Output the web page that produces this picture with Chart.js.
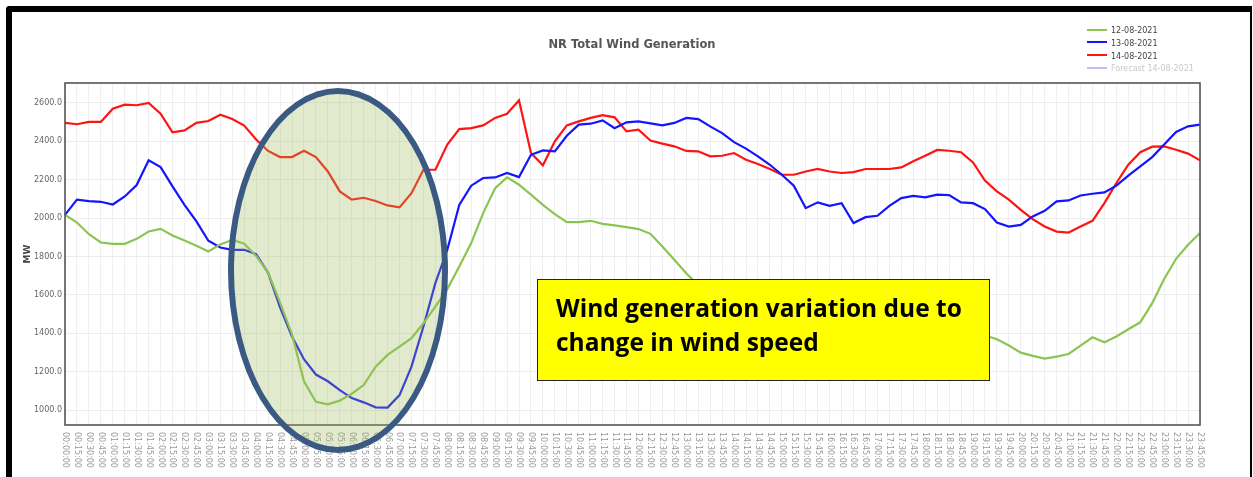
<!DOCTYPE html>
<html>
<head>
<meta charset="utf-8">
<script src="https://cdn.jsdelivr.net/npm/chart.js@4/dist/chart.umd.min.js"></script>
<style>
  html, body { margin: 0; padding: 0; background: #fff; }
  #wrap { position: relative; width: 1253px; height: 477px; overflow: hidden; background: #fff; }
  #frame { position: absolute; left: 6px; top: 6px; width: 1238px; height: 490px; border-top: 6px solid #000; border-left: 6px solid #000; border-right: 2px solid #000; border-top-left-radius: 4px; }
  canvas { position: absolute; left: 0; top: 0; }
  #title { position: absolute; left: 432px; width: 400px; top: 37px; text-align: center; font: bold 11.5px "DejaVu Sans"; color: #555; }
  #legend { position: absolute; left: 1087px; top: 25px; font: 8px "DejaVu Sans"; color: #444; }
  .li { position: relative; height: 12.8px; line-height: 12.8px; white-space: nowrap; }
  .li span.sw { display: inline-block; width: 20px; height: 2px; vertical-align: middle; margin-right: 4px; position: relative; top: -1px; }
  #ellipse { position: absolute; left: 228px; top: 88px; width: 220px; height: 365px; box-sizing: border-box; border: 6px solid #3a5a84; border-radius: 50%; background: rgba(155,187,89,0.3); }
  #note { position: absolute; left: 537px; top: 279px; width: 453px; height: 102px; box-sizing: border-box; border: 1.5px solid #222; background: #ffff00; padding: 11px 0 0 18px; font: bold 24.5px "Open Sans"; line-height: 34px; color: #000; white-space: nowrap; overflow: hidden; }
</style>
</head>
<body>
<div id="wrap">
  <canvas id="c" width="1253" height="477"></canvas>
  <div id="frame"></div>
  <div id="title">NR Total Wind Generation</div>
  <div id="legend"></div>
  <div id="ellipse"></div>
  <div id="note">Wind generation variation due to<br>change in wind speed</div>
</div>
<script>
const categories = ["00:00:00","00:15:00","00:30:00","00:45:00","01:00:00","01:15:00","01:30:00","01:45:00","02:00:00","02:15:00","02:30:00","02:45:00","03:00:00","03:15:00","03:30:00","03:45:00","04:00:00","04:15:00","04:30:00","04:45:00","05:00:00","05:15:00","05:30:00","05:45:00","06:00:00","06:15:00","06:30:00","06:45:00","07:00:00","07:15:00","07:30:00","07:45:00","08:00:00","08:15:00","08:30:00","08:45:00","09:00:00","09:15:00","09:30:00","09:45:00","10:00:00","10:15:00","10:30:00","10:45:00","11:00:00","11:15:00","11:30:00","11:45:00","12:00:00","12:15:00","12:30:00","12:45:00","13:00:00","13:15:00","13:30:00","13:45:00","14:00:00","14:15:00","14:30:00","14:45:00","15:00:00","15:15:00","15:30:00","15:45:00","16:00:00","16:15:00","16:30:00","16:45:00","17:00:00","17:15:00","17:30:00","17:45:00","18:00:00","18:15:00","18:30:00","18:45:00","19:00:00","19:15:00","19:30:00","19:45:00","20:00:00","20:15:00","20:30:00","20:45:00","21:00:00","21:15:00","21:30:00","21:45:00","22:00:00","22:15:00","22:30:00","22:45:00","23:00:00","23:15:00","23:30:00","23:45:00"];

const gen_12_08 = [2017,1977,1916,1873,1866,1866,1892,1930,1944,1909,1883,1856,1826,1863,1887,1866,1803,1716,1560,1395,1150,1043,1030,1049,1085,1130,1226,1287,1330,1374,1452,1539,1630,1748,1870,2026,2156,2212,2174,2122,2069,2021,1979,1979,1986,1970,1962,1953,1943,1918,1852,1783,1713,1650,1590,1540,1505,1485,1470,1460,1450,1445,1445,1450,1440,1430,1425,1420,1415,1410,1405,1405,1400,1400,1398,1395,1392,1388,1369,1336,1299,1282,1268,1278,1292,1336,1379,1353,1383,1421,1457,1557,1683,1788,1861,1922];

const gen_13_08 = [2017,2096,2089,2085,2071,2113,2172,2301,2266,2165,2069,1983,1882,1847,1835,1835,1812,1715,1535,1383,1265,1185,1150,1104,1062,1040,1014,1013,1078,1226,1435,1661,1835,2069,2169,2209,2212,2235,2214,2330,2353,2348,2429,2487,2492,2509,2468,2499,2504,2494,2483,2496,2522,2516,2478,2443,2396,2362,2322,2278,2226,2169,2052,2082,2064,2078,1974,2005,2012,2064,2104,2116,2108,2122,2120,2082,2078,2047,1977,1956,1965,2009,2038,2087,2092,2118,2127,2134,2169,2221,2269,2318,2383,2449,2478,2487];

const gen_14_08 = [2496,2489,2501,2501,2570,2591,2588,2600,2544,2447,2457,2496,2506,2539,2516,2482,2410,2350,2318,2318,2351,2318,2243,2139,2096,2106,2089,2066,2056,2130,2252,2252,2383,2464,2469,2483,2522,2544,2614,2339,2275,2400,2483,2504,2522,2536,2525,2452,2461,2404,2388,2374,2350,2348,2322,2325,2339,2304,2282,2256,2226,2226,2243,2256,2243,2235,2240,2256,2256,2256,2264,2296,2325,2355,2351,2343,2290,2196,2139,2096,2043,1995,1956,1930,1925,1956,1986,2078,2183,2278,2343,2372,2374,2356,2336,2301];

const forecast_14_08 = [];

const yTicks = [1000,1200,1400,1600,1800,2000,2200,2400,2600];
const seriesNames = ["12-08-2021","13-08-2021","14-08-2021","Forecast 14-08-2021"];
const seriesColors = ["rgb(140,196,82)","rgb(20,20,255)","rgb(255,20,20)","rgb(200,185,245)"];

// HTML legend
const legendEl = document.getElementById('legend');
seriesNames.forEach((n, i) => {
  const d = document.createElement('div');
  d.className = 'li';
  if (i === 3) d.style.color = '#c8c8c8';
  d.innerHTML = '<span class="sw" style="background:' + seriesColors[i] + '"></span>' + n;
  legendEl.appendChild(d);
});

Chart.defaults.font.family = '"DejaVu Sans"';

const decor = {
  id: 'decor',
  afterDraw(chart) {
    const ctx = chart.ctx, a = chart.chartArea, xs = chart.scales.x;
    ctx.save();
    // x labels rotated clockwise (reading top to bottom)
    ctx.font = '8px "DejaVu Sans"';
    ctx.fillStyle = '#999';
    ctx.textAlign = 'left';
    ctx.textBaseline = 'middle';
    categories.forEach((lab, i) => {
      const x = xs.getPixelForValue(i);
      ctx.save();
      ctx.translate(x, a.bottom + 7);
      ctx.rotate(Math.PI / 2);
      ctx.fillText(lab, 0, 0);
      ctx.restore();
    });
    // y axis title
    ctx.save();
    ctx.translate(28, (a.top + a.bottom) / 2);
    ctx.rotate(-Math.PI / 2);
    ctx.font = 'bold 9px "DejaVu Sans"';
    ctx.fillStyle = '#444';
    ctx.textAlign = 'center';
    ctx.textBaseline = 'middle';
    ctx.fillText('MW', 0, 0);
    ctx.restore();
    // plot border
    ctx.strokeStyle = '#555';
    ctx.lineWidth = 1.6;
    ctx.strokeRect(a.left, a.top, a.right - a.left, a.bottom - a.top);
    ctx.restore();
  }
};

new Chart(document.getElementById('c'), {
  type: 'line',
  data: {
    labels: categories,
    datasets: [
      { label: seriesNames[0], data: gen_12_08, borderColor: seriesColors[0], borderWidth: 2.2, pointRadius: 0, tension: 0, fill: false },
      { label: seriesNames[1], data: gen_13_08, borderColor: seriesColors[1], borderWidth: 2.2, pointRadius: 0, tension: 0, fill: false },
      { label: seriesNames[2], data: gen_14_08, borderColor: seriesColors[2], borderWidth: 2.2, pointRadius: 0, tension: 0, fill: false },
      { label: seriesNames[3], data: forecast_14_08, borderColor: seriesColors[3], borderWidth: 2, pointRadius: 0, tension: 0, fill: false }
    ]
  },
  options: {
    responsive: false,
    animation: false,
    devicePixelRatio: 1,
    layout: { padding: { left: 0, top: 83, right: 53, bottom: 52 } },
    plugins: { legend: { display: false }, title: { display: false }, tooltip: { enabled: false } },
    scales: {
      x: {
        type: 'category',
        offset: false,
        ticks: { display: false },
        grid: { color: '#efefef', lineWidth: 1, drawTicks: false },
        border: { display: false },
        afterFit(s) { s.height = 0; }
      },
      y: {
        min: 922,
        max: 2704,
        afterBuildTicks(s) { s.ticks = yTicks.map(v => ({ value: v })); },
        ticks: { font: { size: 8 }, color: '#666', padding: 3, callback: v => Number(v).toFixed(1) },
        grid: { color: '#ececec', lineWidth: 1, drawTicks: false },
        border: { display: false },
        afterFit(s) { s.width = 65; }
      }
    }
  },
  plugins: [decor]
});
</script>
</body>
</html>
